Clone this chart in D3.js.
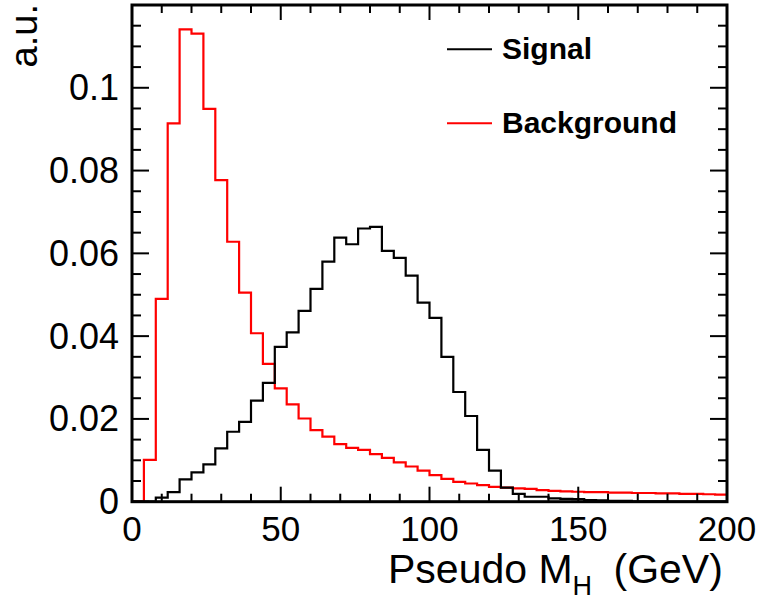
<!DOCTYPE html>
<html>
<head>
<meta charset="utf-8">
<script src="https://cdn.jsdelivr.net/npm/d3@7"></script>
<style>
  body { margin: 0; background: #fff; }
  svg { display: block; font-family: "Liberation Sans", Arial, sans-serif; }
</style>
</head>
<body>
<div id="chart"></div>
<script>
// histogram: 50 bins of 4 GeV from 0 to 200
const binWidth = 4;
const signal = [
  0, 0, 0.0010, 0.0023, 0.0054, 0.0071, 0.0090, 0.0129, 0.0169, 0.0193,
  0.0244, 0.0287, 0.0374, 0.0409, 0.0461, 0.0514, 0.0580, 0.0638, 0.0622, 0.0660,
  0.0664, 0.0606, 0.0589, 0.0546, 0.0481, 0.0444, 0.0350, 0.0265, 0.0207, 0.0125,
  0.0075, 0.0034, 0.0019, 0.0012, 0.0012, 0.0008, 0.0007, 0.0006, 0.0004, 0.0003,
  0.0002, 0.0002, 0.0001, 0.0001, 0.0001, 0, 0, 0, 0, 0
];
const background = [
  0, 0.0101, 0.0490, 0.0914, 0.1141, 0.1131, 0.0949, 0.0777, 0.0628, 0.0505,
  0.0407, 0.0333, 0.0274, 0.0235, 0.0201, 0.0173, 0.0157, 0.0139, 0.0130, 0.0125,
  0.0115, 0.0106, 0.0095, 0.0085, 0.0075, 0.0064, 0.0055, 0.0048, 0.0044, 0.0040,
  0.0036, 0.0034, 0.0032, 0.0031, 0.0028, 0.0026, 0.0025, 0.0024, 0.0023, 0.0023,
  0.0022, 0.0022, 0.0021, 0.0021, 0.0020, 0.0020, 0.0019, 0.0019, 0.0018, 0.0017
];
const xTicks = [0, 50, 100, 150, 200];
const yTicks = [0, 0.02, 0.04, 0.06, 0.08, 0.1];
const yTickLabels = ["0", "0.02", "0.04", "0.06", "0.08", "0.1"];
const legendLabels = ["Signal", "Background"];
const legendColors = ["#000000", "#ff0000"];

const w = 761;
const h = 601;
const frame = { left: 132, right: 727, top: 5, bottom: 501.7 };

const svg = d3.select("#chart")
  .append("svg")
  .attr("width", w)
  .attr("height", h);

const x = d3.scaleLinear().domain([0, 200]).range([frame.left, frame.right]);
const y = d3.scaleLinear().domain([0, 0.12]).range([frame.bottom, frame.top]);

// step lines
const stepLine = d3.line()
  .x(d => x(d[0]))
  .y(d => y(d[1]))
  .curve(d3.curveStepAfter);

const toPoints = arr => {
  const pts = arr.map((v, i) => [i * binWidth, v]);
  pts.push([arr.length * binWidth, arr[arr.length - 1]]);
  return pts;
};

svg.append("path")
  .attr("d", stepLine(toPoints(background)))
  .attr("fill", "none")
  .attr("stroke", legendColors[1])
  .attr("stroke-width", 2.2);

svg.append("path")
  .attr("d", stepLine(toPoints(signal)))
  .attr("fill", "none")
  .attr("stroke", legendColors[0])
  .attr("stroke-width", 2.2);

// axes, ticks inside on all sides
const xMajor = 15, xMinor = 8;
const yMajor = 17, yMinor = 9;
const xMinorTicks = d3.range(0, 201, 10);
const yMinorTicks = d3.range(0, 0.1201, 0.005);

const ticks = svg.append("g").attr("stroke", "#000").attr("stroke-width", 2);

xMinorTicks.forEach(t => {
  const len = (t % 50 === 0) ? xMajor : xMinor;
  ticks.append("line")
    .attr("x1", x(t)).attr("x2", x(t))
    .attr("y1", frame.bottom).attr("y2", frame.bottom - len);
  ticks.append("line")
    .attr("x1", x(t)).attr("x2", x(t))
    .attr("y1", frame.top).attr("y2", frame.top + len);
});

yMinorTicks.forEach(t => {
  const isMajor = Math.abs(t / 0.02 - Math.round(t / 0.02)) < 1e-6;
  const len = isMajor ? yMajor : yMinor;
  ticks.append("line")
    .attr("x1", frame.left).attr("x2", frame.left + len)
    .attr("y1", y(t)).attr("y2", y(t));
  ticks.append("line")
    .attr("x1", frame.right).attr("x2", frame.right - len)
    .attr("y1", y(t)).attr("y2", y(t));
});

// frame
svg.append("rect")
  .attr("x", frame.left)
  .attr("y", frame.top)
  .attr("width", frame.right - frame.left)
  .attr("height", frame.bottom - frame.top)
  .attr("fill", "none")
  .attr("stroke", "#000")
  .attr("stroke-width", 3);

// tick labels
svg.append("g")
  .selectAll("text")
  .data(xTicks)
  .enter()
  .append("text")
  .attr("x", d => x(d))
  .attr("y", 541)
  .attr("text-anchor", "middle")
  .style("font-size", "35px")
  .text(d => d);

svg.append("g")
  .selectAll("text")
  .data(yTicks)
  .enter()
  .append("text")
  .attr("x", 119)
  .attr("y", d => y(d) + 12.5)
  .attr("text-anchor", "end")
  .style("font-size", "36px")
  .text((d, i) => yTickLabels[i]);

// axis titles
const xTitle = svg.append("text")
  .attr("x", 388)
  .attr("y", 583)
  .style("font-size", "41px");
xTitle.append("tspan").text("Pseudo M");
xTitle.append("tspan").attr("dy", 12).style("font-size", "27px").text("H");
xTitle.append("tspan").attr("dy", -12).attr("dx", 10).text(" (GeV)");

svg.append("text")
  .attr("transform", "translate(37,4) rotate(-90)")
  .attr("text-anchor", "end")
  .style("font-size", "38px")
  .text("a.u.");

// legend
const legend = svg.append("g");
const legendItem = legend.selectAll("g")
  .data(legendLabels)
  .enter()
  .append("g")
  .attr("transform", (d, i) => `translate(447, ${49.3 + i * 74})`);

legendItem.append("line")
  .attr("x1", 0).attr("x2", 45)
  .attr("y1", 0).attr("y2", 0)
  .attr("stroke", (d, i) => legendColors[i])
  .attr("stroke-width", 2);

legendItem.append("text")
  .attr("x", 55)
  .attr("y", 10)
  .style("font-size", "30px")
  .style("font-weight", "bold")
  .text(d => d);
</script>
</body>
</html>
